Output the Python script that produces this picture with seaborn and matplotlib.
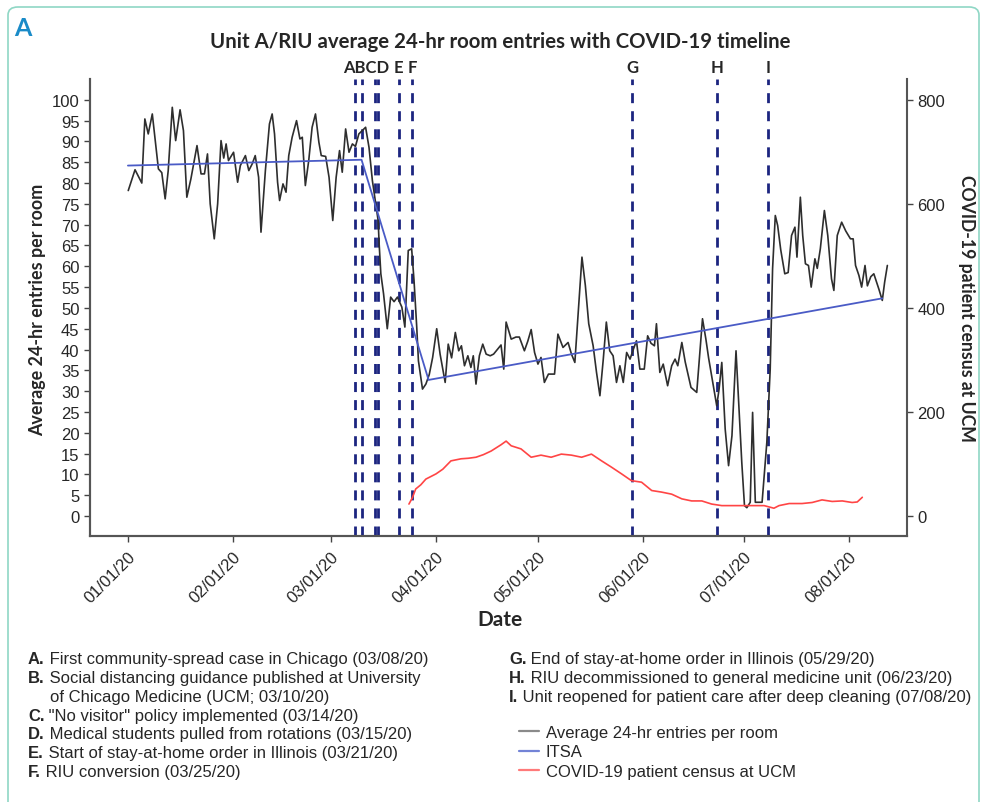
import pandas as pd
import matplotlib
matplotlib.use('Agg')
import matplotlib.pyplot as plt
import matplotlib.dates as mdates
import matplotlib.transforms as mtransforms
from matplotlib.patches import FancyBboxPatch
from matplotlib.lines import Line2D
import seaborn as sns

start = pd.Timestamp('2020-01-01')

# average 24-hr entries per room: days since 01/01/20 and value
entry_day = [0.1, 2.1, 4.1, 5.0, 6.0, 7.2, 9.0, 10.0, 11.0, 11.9, 13.1, 14.1, 15.4, 16.4, 17.4, 18.6,
             20.4, 21.6, 22.6, 23.5, 24.3, 25.5, 26.5, 27.5, 28.3, 29.0, 29.7, 31.2, 32.4, 33.2, 34.7,
             35.7, 36.7, 37.6, 38.6, 39.3, 40.6, 41.8, 42.6, 43.3, 44.2, 44.8, 45.8, 46.7, 47.5, 48.5,
             49.8, 50.8, 51.5, 52.4, 53.4, 54.4, 55.4, 56.4, 57.1, 58.4, 59.4, 60.5, 61.5, 62.5, 63.3,
             64.3, 65.3, 66.3, 67.2, 68.2, 69.2, 70.2, 71.2, 72.2, 73.2, 73.9, 74.2, 74.7, 75.5, 76.6,
             77.6, 78.6, 79.6, 80.9, 81.8, 82.8, 83.8, 84.5, 85.3, 85.8, 87.0, 88.0, 89.0, 90.0, 91.2,
             92.2, 93.7, 94.6, 95.6, 96.7, 97.7, 98.5, 99.4, 100.4, 101.3, 102.0, 102.8, 103.8, 104.8,
             105.8, 107.0, 108.0, 109.2, 110.2, 111.0, 111.7, 113.2, 114.6, 115.6, 117.1, 118.1, 119.1,
             120.1, 121.1, 122.0, 123.0, 124.2, 126.0, 127.0, 128.5, 130.0, 131.0, 132.0, 133.0, 134.1,
             135.1, 136.1, 137.4, 138.4, 139.4, 140.4, 141.3, 142.3, 143.3, 144.3, 145.3, 146.3, 147.3,
             148.3, 149.3, 150.2, 151.2, 152.5, 153.5, 154.5, 155.5, 156.1, 157.1, 158.1, 159.4, 160.6,
             161.6, 162.4, 163.6, 164.6, 166.3, 168.0, 169.7, 170.7, 171.5, 172.4, 173.9, 174.6, 175.4,
             175.9, 176.4, 177.4, 178.4, 179.6, 180.4, 181.3, 182.1, 182.8, 183.8, 184.5, 185.3, 187.3,
             188.7, 189.7, 190.4, 191.2, 191.9, 192.8, 194.0, 195.0, 196.0, 197.0, 197.6, 198.6, 199.3,
             200.1, 201.0, 201.8, 202.9, 203.6, 204.5, 205.7, 206.7, 207.8, 208.5, 209.5, 210.8, 212.0,
             213.4, 214.2, 214.9, 215.9, 216.7, 217.7, 218.4, 219.4, 220.3, 221.8, 222.8, 223.5, 224.3]
entry_val = [78.2, 83.2, 80.0, 95.4, 91.8, 96.6, 83.4, 82.5, 76.2, 83.0, 98.2, 90.2, 97.6, 92.6, 76.6, 81.0,
             89.0, 82.2, 82.2, 87.0, 75.0, 66.6, 75.0, 90.2, 86.0, 89.4, 85.4, 87.4, 80.2, 84.2, 86.6,
             83.0, 84.6, 86.6, 81.4, 68.2, 83.0, 94.2, 96.6, 91.8, 80.2, 75.8, 79.8, 77.8, 86.6, 91.0,
             95.0, 90.6, 91.0, 79.4, 85.4, 93.4, 96.6, 89.8, 86.6, 86.4, 81.4, 71.0, 81.4, 87.8, 82.6,
             93.0, 87.4, 89.4, 88.8, 91.8, 92.6, 93.4, 88.6, 80.6, 75.0, 71.0, 65.4, 58.2, 53.4, 45.0,
             52.6, 51.5, 52.6, 50.2, 45.4, 63.8, 64.2, 56.6, 45.4, 37.3, 30.5, 31.7, 34.0, 38.1, 45.0,
             38.9, 32.1, 41.3, 38.0, 44.1, 39.7, 40.9, 36.1, 38.5, 35.7, 38.5, 31.7, 38.5, 41.3,
             38.9, 38.5, 38.9, 40.1, 41.1, 35.3, 46.6, 42.5, 43.0, 43.0, 39.7, 42.0, 44.8,
             39.3, 36.5, 38.1, 32.1, 34.1, 34.1, 43.7, 40.5, 41.7, 38.9, 36.9, 49.0, 62.2,
             55.4, 46.2, 40.9, 34.5, 28.9, 37.7, 46.6, 39.7, 38.5, 32.1, 36.1, 32.1, 39.3,
             37.7, 40.1, 42.1, 35.3, 35.3, 43.3, 41.5, 40.9, 46.2, 34.5, 36.5, 31.3, 36.1,
             37.7, 36.1, 41.7, 37.0, 30.9, 29.7, 47.4, 42.5, 38.0, 33.7, 26.5, 30.5, 36.9,
             28.9, 20.9, 12.1, 19.3, 39.7, 27.3, 12.9, 2.5, 2.0, 3.3, 24.9, 3.3, 3.3,
             17.7, 35.3, 59.4, 72.2, 69.8, 64.0, 58.2, 58.5, 67.4, 69.4, 62.2, 76.6, 67.4,
             60.6, 60.2, 55.0, 61.8, 59.5, 64.2, 73.4, 67.4, 57.0, 54.2, 67.4, 70.6, 68.5,
             66.6, 66.6, 60.2, 57.8, 55.0, 60.2, 55.3, 57.5, 58.2, 54.5, 51.8, 56.2, 60.2]

# ITSA fitted segments
itsa_day = [0.0, 69.0, 88.8, 222.8]
itsa_val = [84.2, 85.6, 32.7, 52.3]

# COVID-19 patient census at UCM (right axis)
census_day = [83, 84, 85, 86.5, 88, 91, 93, 95.4, 98.4, 100.5, 102.8, 105, 107.3, 110.2, 111.7, 113.2,
              116.1, 119.1, 122, 125, 128, 131, 134, 136.9, 139.9, 142.8, 145.8, 148.7, 151.7, 154.7,
              157.6, 160.6, 163.6, 166.5, 169.5, 172.4, 175.4, 178.4, 181.3, 184.3, 187.9, 190.8,
              192.3, 195.3, 199.1, 202.1, 205, 208, 211, 213.9, 215.4, 216.9]
census_val = [23, 35, 52, 60, 71, 81, 90, 106, 110, 111, 113, 118, 125, 137, 144, 135,
              129, 113, 117, 113, 119, 117, 113, 119, 106, 94, 81, 68, 65, 49,
              46, 42, 33, 29, 29, 23, 20, 20, 20, 20, 20, 15,
              20, 24, 24, 26, 31, 28, 29, 26, 27, 36]

event_letters = ['A', 'B', 'C', 'D', 'E', 'F', 'G', 'H', 'I']
event_dates = ['2020-03-08', '2020-03-10', '2020-03-14', '2020-03-15', '2020-03-21',
               '2020-03-25', '2020-05-29', '2020-06-23', '2020-07-08']

left_notes = [('A.', 'First community-spread case in Chicago (03/08/20)'),
              ('B.', 'Social distancing guidance published at University'),
              ('', 'of Chicago Medicine (UCM; 03/10/20)'),
              ('C.', '"No visitor" policy implemented (03/14/20)'),
              ('D.', 'Medical students pulled from rotations (03/15/20)'),
              ('E.', 'Start of stay-at-home order in Illinois (03/21/20)'),
              ('F.', 'RIU conversion (03/25/20)')]
right_notes = [('G.', 'End of stay-at-home order in Illinois (05/29/20)'),
               ('H.', 'RIU decommissioned to general medicine unit (06/23/20)'),
               ('I.', 'Unit reopened for patient care after deep cleaning (07/08/20)')]
legend_labels = ['Average 24-hr entries per room', 'ITSA', 'COVID-19 patient census at UCM']

sns.set_style('ticks')
plt.rcParams['font.family'] = ['Liberation Sans', 'DejaVu Sans']
NARROW = ['Liberation Sans Narrow', 'Liberation Sans', 'DejaVu Sans']
HEAD = ['Lato', 'DejaVu Sans']
NOTE_SIZE = 12

W, H = 987, 803
fig = plt.figure(figsize=(W / 100, H / 100), dpi=100)
ax = fig.add_axes([90 / W, 1 - 537 / H, (907 - 90) / W, (537 - 80) / H])
ax2 = ax.twinx()

def to_dates(days):
    return start + pd.to_timedelta(pd.Series(days, dtype=float), unit='D')

entries = pd.DataFrame({'date': to_dates(entry_day), 'val': entry_val})
itsa = pd.DataFrame({'date': to_dates(itsa_day), 'val': itsa_val})
census = pd.DataFrame({'date': to_dates(census_day), 'val': census_val})

sns.lineplot(data=entries, x='date', y='val', ax=ax, color='#2e2e2e', lw=1.2,
             sort=False, estimator=None, zorder=3)
sns.lineplot(data=itsa, x='date', y='val', ax=ax, color='#4a5bc6', lw=1.3,
             sort=False, estimator=None, zorder=4)
sns.lineplot(data=census, x='date', y='val', ax=ax2, color='#ff4545', lw=1.2,
             sort=False, estimator=None)

for d in event_dates:
    ax.axvline(pd.Timestamp(d), color='#1c2580', lw=2.0, dashes=(3.6, 2.9), zorder=2)

# event letters above the plot
trans = mtransforms.blended_transform_factory(ax.transData, ax.transAxes)
ev = [pd.Timestamp(d) for d in event_dates]
mid_ad = ev[0] + (ev[3] - ev[0]) / 2
ax.text(mid_ad, 1.026, 'ABCD', transform=trans, ha='center', va='center',
        fontsize=12, fontweight='bold', family=HEAD)
for letter, d in zip(event_letters[4:], ev[4:]):
    ax.text(d, 1.026, letter, transform=trans, ha='center', va='center',
            fontsize=12, fontweight='bold', family=HEAD)

ax.set_xlim(start - pd.Timedelta(days=11.2), start + pd.Timedelta(days=230.1))
ax.set_ylim(-4.8, 105)
ax2.set_ylim(-38.4, 840)
ax.set_yticks(range(0, 101, 5))
ax2.set_yticks(range(0, 801, 200))
ax.set_xticks([pd.Timestamp(f'2020-{m:02d}-01') for m in range(1, 9)])
ax.xaxis.set_major_formatter(mdates.DateFormatter('%m/%d/%y'))
for lab in ax.get_xticklabels():
    lab.set_rotation(45)
    lab.set_ha('right')
    lab.set_rotation_mode('anchor')
ax.tick_params(axis='both', labelsize=12, length=4, width=1, color='#444444')
ax2.tick_params(axis='y', labelsize=12, length=4, width=1, color='#444444')
ax.tick_params(axis='x', pad=5)

ax.set_xlabel('')
ax.set_ylabel('')
ax2.set_ylabel('')
for a in (ax, ax2):
    a.spines['top'].set_visible(False)
    for s in ('left', 'right', 'bottom'):
        a.spines[s].set_color('#555555')
        a.spines[s].set_linewidth(1.5)
ax.spines['right'].set_visible(False)

fig.text(500 / W, 1 - 42 / H, 'Unit A/RIU average 24-hr room entries with COVID-19 timeline',
         ha='center', va='center', fontsize=14.7, fontweight='bold', family=HEAD)
fig.text(38 / W, 1 - 310 / H, 'Average 24-hr entries per room', rotation=90,
         ha='center', va='center', fontsize=12.9, fontweight='bold', family=HEAD)
fig.text(967 / W, 1 - 308 / H, 'COVID-19 patient census at UCM', rotation=270,
         ha='center', va='center', fontsize=12.7, fontweight='bold', family=HEAD)
fig.text(500 / W, 1 - 620 / H, 'Date', ha='center', va='center', fontsize=15,
         fontweight='bold', family=HEAD)
fig.text(14 / W, 1 - 28 / H, 'A', ha='left', va='center', fontsize=18,
         fontweight='bold', color='#1a8bc8', family=HEAD)

# footnotes with bold letter and regular description
def note(x_px, y_px, tag, txt):
    y = 1 - y_px / H
    if tag:
        t = fig.text(x_px / W, y, tag, ha='left', va='center', fontsize=NOTE_SIZE,
                     fontweight='bold', family=NARROW)
        ax.annotate(' ' + txt, xy=(1, 0.5), xycoords=t, ha='left', va='center',
                    fontsize=NOTE_SIZE, family=NARROW, annotation_clip=False)
    else:
        fig.text(x_px / W, y, txt, ha='left', va='center', fontsize=NOTE_SIZE, family=NARROW)

for i, (tag, txt) in enumerate(left_notes):
    note(28 if tag else 50, 660 + i * 18.7, tag, txt)
for i, (tag, txt) in enumerate(right_notes):
    note(509, 660 + i * 18.7, tag, txt)

handles = [Line2D([], [], color='#8a8a8a', lw=1.6),
           Line2D([], [], color='#7383d6', lw=1.6),
           Line2D([], [], color='#ff7a7a', lw=1.6)]
fig.legend(handles, legend_labels, loc='center left', bbox_to_anchor=(504 / W, 1 - 753 / H),
           frameon=False, handlelength=1.2, handletextpad=0.4, labelspacing=0.25,
           prop={'family': NARROW, 'size': NOTE_SIZE})

# thin rounded panel border
border = FancyBboxPatch((8 / W, -0.05), (979 - 8) / W, 1 - 8 / H + 0.05,
                        boxstyle='round,pad=0,rounding_size=0.01', transform=fig.transFigure,
                        fill=False, edgecolor='#8fd7c5', lw=1.2)
fig.patches.append(border)

fig.savefig('out.png', dpi=100)
